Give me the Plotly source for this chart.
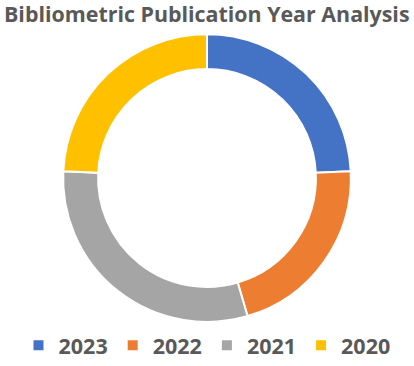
import plotly.graph_objects as go

years = ["2023", "2022", "2021", "2020"]
counts = [8, 7, 10, 8]
colors = ["#4472C4", "#ED7D31", "#A5A5A5", "#FFC000"]
title_text = "Bibliometric Publication Year Analysis"

W, H = 414, 366

fig = go.Figure(go.Pie(
    labels=years,
    values=counts,
    hole=0.757,
    sort=False,
    direction="clockwise",
    rotation=0,
    textinfo="none",
    hoverinfo="skip",
    marker=dict(colors=colors, line=dict(color="white", width=2)),
    domain=dict(x=[0, 1], y=[(H - 330) / H, (H - 35) / H]),
))

fig.update_layout(
    width=W, height=H,
    margin=dict(l=0, r=0, t=0, b=0),
    paper_bgcolor="white",
    plot_bgcolor="white",
    showlegend=True,
    legend=dict(
        orientation="h",
        x=0.5, xanchor="center",
        y=(H - 354) / H, yanchor="middle",
        font=dict(family="Open Sans", size=21.5, color="#595959", weight="bold"),
        traceorder="normal",
    ),
    annotations=[dict(
        text="<b>" + title_text + "</b>",
        xref="paper", yref="paper",
        x=0.5, xanchor="center",
        y=1 - 14 / H, yanchor="middle",
        showarrow=False,
        font=dict(family="Open Sans", size=21.4, color="#595959"),
    )],
)

fig.write_html(
    "out.html",
    config={"displayModeBar": False},
    post_script="document.body.style.margin='0';document.body.style.overflow='hidden';",
)
